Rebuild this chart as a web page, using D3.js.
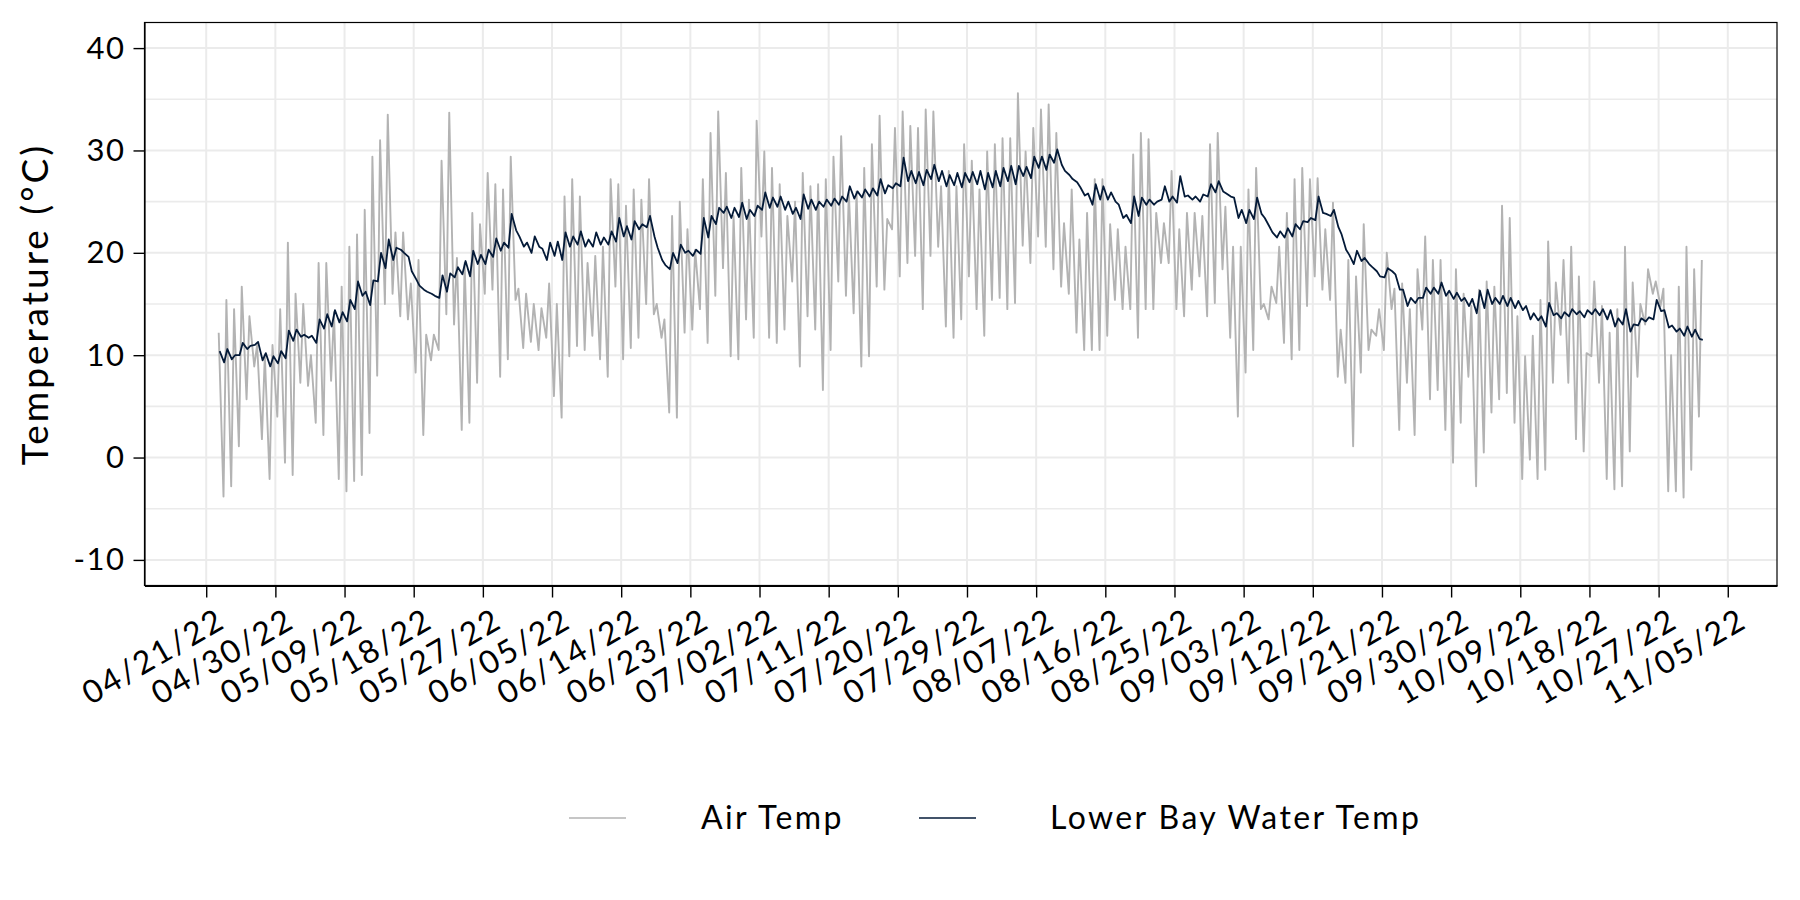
<!DOCTYPE html>
<html>
<head>
<meta charset="utf-8">
<script src="https://cdn.jsdelivr.net/npm/d3@7"></script>
<style>
  body { margin: 0; background: #fff; }
  svg text { font-family: Lato, "Open Sans", sans-serif; fill: #000; }
</style>
</head>
<body>
<svg id="chart"></svg>
<script>
// first calendar day of the record, one entry per day after that
const firstDay = "2022-04-22";

// air temp: early-morning low and afternoon high of each day (deg C)
const airMin = [null, -3.8, -2.8, 1.1, 5.7, 8.9, 1.8, -2.1, 4, -0.5,
  -1.7, 7.3, 7, 3.4, 2.2, 7.5, -2.1, -3.3, -2.3, -1.7,
  2.4, 8, 15, 16, 13.8, 13.5, 8.3, 2.2, 9.5, 10.5,
  14, 13, 2.7, 3.4, 7.3, 16, 16.4, 7.9, 9.6, 15.4,
  10.7, 11.3, 10.5, 11.7, 6, 3.9, 9.9, 10.9, 10.5, 11.9,
  9.6, 7.9, 16.7, 9.6, 10.7, 11.7, 15, 14, 11.7, 4.4,
  3.9, 12.2, 12.5, 14.5, 11.2, 15.8, 18.5, 9.9, 9.6, 13.5,
  11.7, 21.6, 11.7, 11.2, 12.5, 17.2, 8.9, 13.8, 12.5, 6.6,
  10.5, 17.2, 15.8, 14.1, 8.9, 9.9, 16.7, 16.4, 22.3, 17.7,
  19, 19.7, 14.5, 19.7, 20.6, 12.8, 11.7, 13.5, 17.7, 14.5,
  11.9, 15.4, 15.6, 14.5, 15.1, 20.7, 19, 21.6, 20.6, 18.4,
  16.7, 16, 12.2, 10.5, 10.5, 10.5, 11.9, 15.4, 14.5, 14.5,
  11.7, 14.5, 14.5, 19, 19, 14.5, 13.8, 16.4, 17.7, 13.8,
  15.1, 18.4, 11.7, 4, 8.3, 10.5, 14.5, 13.5, 15.1, 11.2,
  9.6, 10.5, 14.8, 17.7, 16.4, 15.4, 7.9, 7.3, 1.1, 8.3,
  10.5, 11.9, 10.5, 14.5, 2.7, 7.3, 2.2, 12.5, 5.7, 6.6,
  2.7, -0.5, 3.4, 7.9, -2.8, 0.5, 4.4, 5.7, 6.3, 3.4,
  -2.1, -0.2, -2.1, -1.2, 7.3, 12, 7.3, 1.8, 0.6, 9.9,
  7.3, -2.1, -3.1, -2.8, 0.6, 7.9, 13, 16, 14.8, -3.3,
  -3.3, -3.9, -1.2, 4.0];
const airMax = [12.2, 15.4, 14.5, 16.7, 13.8, 11, 10, 11, 14.5, 21,
  16, 15, 10, 19, 19, 14.2, 16.7, 20.6, 21.8, 24.2,
  29.4, 31, 33.5, 22, 22, 17, 19.3, 12, 12, 29,
  33.7, 19.5, 19, 23.9, 22.8, 27.8, 26.7, 26.2, 29.4, 16.5,
  16, 15, 14.6, 17, 15, 25.5, 27.2, 25.5, 19, 19.7,
  20.6, 27.2, 26.7, 24.6, 26.2, 25.2, 27.2, 15, 13.5, 23.6,
  25, 22.3, 20.3, 27.2, 31.7, 33.8, 27.8, 23.6, 28.3, 25.2,
  32.9, 29.9, 28.3, 26.7, 23.6, 25, 27.8, 26.5, 26.7, 27.2,
  29.4, 31.4, 25.9, 26, 28.3, 30.6, 33.4, 23.3, 32.2, 33.8,
  32.4, 32.2, 34, 33.8, 26.5, 28, 26.5, 30.6, 29, 26.2,
  29.9, 30.6, 31.2, 31.2, 35.6, 29.9, 32.2, 34, 34.5, 31.7,
  22.9, 26.2, 21.3, 23.9, 27.2, 27.2, 22.8, 22.3, 20.6, 29.6,
  31.7, 31.1, 23.9, 22.9, 28, 22.3, 23.9, 23.9, 23.6, 30.6,
  31.7, 24.5, 20.6, 20.6, 26.2, 28.3, 15, 16.7, 20.6, 23.9,
  27.2, 28.3, 27.2, 27.3, 22.3, 24.9, 12.5, 19.3, 17.7, 22.8,
  12.5, 14.5, 20, 16.5, 17, 14.5, 18.4, 21.6, 19.3, 19.3,
  16, 18.4, 16, 14.8, 16.4, 17.2, 16.7, 24.6, 23.4, 13.8,
  9.9, 11.9, 15.4, 21.1, 17.1, 19.3, 20.6, 17.7, 10.2, 17.2,
  14.8, 12.2, 14.5, 20.6, 17.1, 15, 18.4, 17.2, 16.5, 10,
  16.7, 20.6, 18.4, 19.3];

// lower bay water temp: morning and evening reading of each day (deg C)
const waterAM = [null, 9.3, 9.6, 10, 10.6, 11.0, 9.5, 8.9, 9.2, 9.7,
  11.4, 11.8, 11.7, 11.2, 12.6, 12.8, 13.2, 13.3, 14.5, 15.8,
  14.9, 17.2, 18.5, 19.3, 20.3, 19.6, 17.4, 16.4, 16.0, 15.6,
  16.2, 17.6, 17.9, 17.7, 18.9, 18.9, 19.6, 20.2, 20.5, 22.2,
  20.6, 20.0, 20.6, 19.3, 19.7, 19.3, 20.6, 20.8, 20.6, 20.6,
  20.8, 20.8, 21.1, 21.6, 21.3, 22.3, 22.5, 21.6, 19.3, 18.4,
  19, 20, 19.7, 19.9, 21.5, 22.8, 23.9, 23.4, 23.5, 23.3,
  23.6, 24.2, 24.4, 24.5, 24.2, 23.8, 23.3, 24.3, 24.2, 24.5,
  24.6, 24.7, 25.0, 25.3, 25.4, 25.5, 25.6, 25.8, 26.3, 26.5,
  27.0, 26.8, 26.6, 27.2, 27.0, 26.5, 26.6, 26.4, 26.9, 26.7,
  26.2, 26.4, 26.5, 27.0, 26.7, 27.5, 27.3, 28.3, 28.1, 28.8,
  28.6, 27.6, 26.9, 25.6, 24.7, 25.2, 25.2, 25.0, 23.4, 22.9,
  23.6, 24.7, 24.7, 25.2, 25.0, 24.9, 25.5, 25.2, 25.0, 25.5,
  25.9, 26.0, 25.5, 23.4, 22.9, 23.3, 23.8, 22.6, 21.5, 21.5,
  21.6, 22.3, 23.0, 23.2, 23.9, 23.6, 22.5, 20.3, 18.9, 19.2,
  18.9, 18.2, 17.6, 18.2, 16.4, 14.8, 15.1, 15.6, 16.0, 16.0,
  15.8, 15.5, 15.3, 14.8, 14.1, 14.6, 15.0, 15.0, 14.8, 14.6,
  14.4, 13.5, 13.4, 12.8, 13.9, 13.6, 13.8, 14.0, 13.7, 14.0,
  13.9, 13.5, 12.8, 13.0, 12.3, 12.9, 13.3, 13.5, 14.3, 12.7,
  12.3, 11.9, 11.8, 11.6];
const waterPM = [10.4, 10.6, 10.0, 11.2, 10.9, 11.3, 10.2, 9.9, 10.4, 12.4,
  12.5, 12.0, 11.9, 13.5, 14, 14.4, 14.2, 15.4, 17.2, 16.2,
  17.3, 20, 21.3, 20.5, 20.0, 18.2, 16.8, 16.2, 15.8, 17.8,
  18, 18.6, 19.2, 20.2, 19.8, 20.3, 21.4, 21, 23.8, 21.6,
  21.0, 21.6, 20.4, 21, 21.1, 22, 21.6, 22.1, 21.3, 22.0,
  21.5, 22.1, 23.4, 22.6, 23.1, 22.8, 23.6, 20.5, 18.8, 20,
  20.8, 20.2, 20.3, 23.4, 23.6, 24.4, 24.5, 24.4, 24.9, 24.2,
  24.6, 25.9, 25.4, 25.5, 25.0, 24.4, 25.7, 25.2, 25.0, 25.2,
  25.3, 25.5, 26.5, 26.0, 26.2, 26.3, 27.2, 26.6, 26.8, 29.3,
  28.0, 27.9, 28.1, 28.6, 28.0, 27.6, 27.8, 27.8, 27.9, 28.0,
  27.8, 28.0, 28.3, 28.5, 28.5, 28.4, 29.4, 29.4, 29.6, 30.1,
  28.0, 27.2, 26.4, 25.8, 26.7, 26.5, 25.9, 24.7, 23.7, 25.5,
  25.4, 25.2, 25.0, 26.5, 25.5, 27.5, 25.6, 25.5, 25.7, 26.7,
  27.0, 25.8, 25.4, 24.2, 24.2, 25.4, 23.4, 22.0, 22.1, 22.4,
  22.8, 23.1, 23.4, 25.5, 23.8, 24.2, 21.8, 19.8, 20.2, 19.5,
  18.6, 17.7, 18.5, 17.9, 16.4, 15.6, 15.6, 16.6, 16.6, 17.1,
  16.3, 16.1, 15.6, 15.5, 16.3, 16.4, 15.6, 15.8, 15.6, 15.3,
  14.8, 14.1, 13.8, 15.1, 14.1, 14.2, 14.5, 14.3, 14.4, 14.5,
  14.5, 14.4, 13.6, 14.5, 13.0, 13.6, 13.7, 15.4, 14.4, 12.9,
  12.6, 12.8, 12.5, 11.5];

// axis setup
const xTickStart = "2022-04-21";
const xTickStepDays = 9;
const xTickCount = 23;
const yTicks = [-10, 0, 10, 20, 30, 40];
const yMinorTicks = [-5, 5, 15, 25, 35];
const yLimits = [-10, 40];
const seriesNames = ["Air Temp", "Lower Bay Water Temp"];
const seriesColors = ["#b3b3b3", "#041a38"];

const W = 1800, H = 900;
const margin = { top: 22.5, right: 23, bottom: 314.5, left: 144.5 };
const width = W - margin.left - margin.right;
const height = H - margin.top - margin.bottom;

const parseDay = d3.utcParse("%Y-%m-%d");
const day0 = parseDay(firstDay);

let air = [], water = [];
airMax.forEach((v, i) => {
  const d = d3.utcDay.offset(day0, i);
  if (airMin[i] != null) air.push({ t: d3.utcHour.offset(d, 6), v: airMin[i] });
  air.push({ t: d3.utcHour.offset(d, 15), v: v });
  if (waterAM[i] != null) water.push({ t: d3.utcHour.offset(d, 8), v: waterAM[i] });
  water.push({ t: d3.utcHour.offset(d, 18), v: waterPM[i] });
});

// ggplot-like 5% expansion
const ext = d3.extent(air.concat(water), d => d.t);
const pad = (ext[1] - ext[0]) * 0.05;
const x = d3.scaleUtc()
  .domain([new Date(+ext[0] - pad), new Date(+ext[1] + pad)])
  .range([0, width]);
const yPad = (yLimits[1] - yLimits[0]) * 0.05;
const y = d3.scaleLinear()
  .domain([yLimits[0] - yPad, yLimits[1] + yPad])
  .range([height, 0]);

const t0 = parseDay(xTickStart);
const xTicks = d3.range(xTickCount).map(i => d3.utcDay.offset(t0, i * xTickStepDays));

const svg = d3.select('#chart').attr('width', W).attr('height', H);
const g = svg.append('g').attr('transform', `translate(${margin.left}, ${margin.top})`);

g.append('clipPath').attr('id', 'panel')
  .append('rect').attr('width', width).attr('height', height);

// grid
g.append('g').selectAll('line').data(yMinorTicks).enter().append('line')
  .attr('x1', 0).attr('x2', width)
  .attr('y1', d => y(d)).attr('y2', d => y(d))
  .attr('stroke', '#ebebeb').attr('stroke-width', 1.6);
g.append('g').selectAll('line').data(yTicks).enter().append('line')
  .attr('x1', 0).attr('x2', width)
  .attr('y1', d => y(d)).attr('y2', d => y(d))
  .attr('stroke', '#ebebeb').attr('stroke-width', 2);
g.append('g').selectAll('line').data(xTicks).enter().append('line')
  .attr('y1', 0).attr('y2', height)
  .attr('x1', d => x(d)).attr('x2', d => x(d))
  .attr('stroke', '#ebebeb').attr('stroke-width', 2);

// series
const line = d3.line().x(d => x(d.t)).y(d => y(d.v));
const plot = g.append('g').attr('clip-path', 'url(#panel)');
plot.append('path').datum(air)
  .attr('fill', 'none').attr('stroke', seriesColors[0])
  .attr('stroke-width', 1.9).attr('stroke-linejoin', 'round')
  .attr('d', line);
plot.append('path').datum(water)
  .attr('fill', 'none').attr('stroke', seriesColors[1])
  .attr('stroke-width', 1.8).attr('stroke-linejoin', 'round')
  .attr('d', line);

// panel border
g.append('rect').attr('width', width).attr('height', height)
  .attr('fill', 'none').attr('stroke', '#000').attr('stroke-width', 1.2);

// axes
const fmt = d3.utcFormat('%m/%d/%y');
const xAxis = g.append('g')
  .attr('transform', `translate(0, ${height})`)
  .call(d3.axisBottom(x).tickValues(xTicks).tickFormat(fmt).tickSize(12).tickSizeOuter(0));
xAxis.select('.domain').attr('stroke-width', 2);
xAxis.selectAll('.tick line').attr('stroke-width', 1.4);
xAxis.selectAll('.tick text')
  .attr('y', 0).attr('dy', '0.72em')
  .attr('text-anchor', 'end')
  .attr('transform', 'translate(9, 21) rotate(-30)')
  .style('font-size', '32px')
  .style('letter-spacing', '2.2px');

const yAxis = g.append('g')
  .call(d3.axisLeft(y).tickValues(yTicks).tickFormat(d => String(d))
    .tickSize(11).tickPadding(8).tickSizeOuter(0));
yAxis.select('.domain').attr('stroke-width', 1.2);
yAxis.selectAll('.tick line').attr('stroke-width', 1.4);
yAxis.selectAll('.tick text')
  .style('font-size', '31px')
  .style('letter-spacing', '1.5px');

svg.selectAll('.domain, .tick line').attr('stroke', '#000');

// axis title
svg.append('text')
  .attr('transform', `translate(48, ${margin.top + height / 2}) rotate(-90)`)
  .attr('text-anchor', 'middle')
  .style('font-size', '37px')
  .style('letter-spacing', '3px')
  .text('Temperature (°C)');

// legend
const legendY = 818;
const keyX = [569, 919];
const labelX = [701, 1050];
const legend = svg.append('g');
seriesNames.forEach((name, i) => {
  legend.append('line')
    .attr('x1', keyX[i]).attr('x2', keyX[i] + 57)
    .attr('y1', legendY).attr('y2', legendY)
    .attr('stroke', seriesColors[i]).attr('stroke-width', 1.7);
  legend.append('text')
    .attr('x', labelX[i]).attr('y', legendY).attr('dy', '0.35em')
    .style('font-size', '32px')
    .style('letter-spacing', '2.4px')
    .text(name);
});
</script>
</body>
</html>
